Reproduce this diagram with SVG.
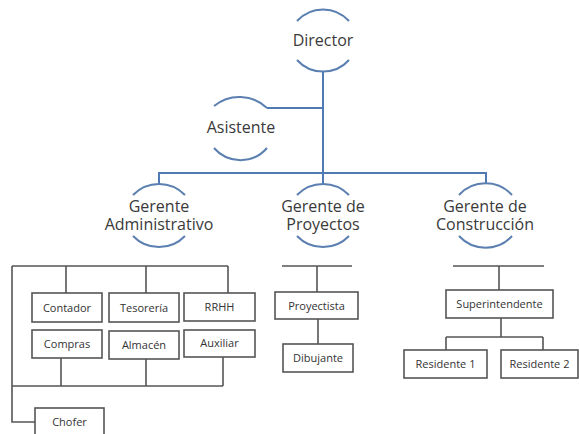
<svg xmlns="http://www.w3.org/2000/svg" width="579" height="434" viewBox="0 0 579 434">
<style>
.bg{fill:#fff}
.arc{fill:none;stroke:#5a7fb0;stroke-width:2}
.bl{fill:none;stroke:#4f7ab3;stroke-width:2}
.gl{fill:none;stroke:#555;stroke-width:1.6}
.box{fill:#fff;stroke:#555;stroke-width:1.6}
.t1{font-family:"Open Sans","Liberation Sans",sans-serif;font-size:16px;fill:#3a3a3a;text-anchor:middle}
.t2{font-family:"Open Sans","Liberation Sans",sans-serif;font-size:11px;fill:#333;text-anchor:middle}
</style>
<rect class="bg" width="579" height="434"/>
<g id="connectors">
<path class="bl" d="M323,71 V173 M267,108 H323 M159,185 V173 H486 V184 M323,173 V185"/>
<path class="gl" d="M12,266 H228 M12,266 V422 H35 M66,266 V293 M146,266 V293 M228,266 V293 M61,358 V386 M146,359 V386 M223,357 V386 M12,386 H223"/>
<path class="gl" d="M282,266 H352 M317,266 V292 M318,319 V344"/>
<path class="gl" d="M453,266 H544 M499,266 V290 M501,318 V337 M446,337 H543 M446,337 V350 M543,337 V350"/>
</g>
<g id="director">
<path class="arc" d="M297,21 A35,35 0 0 1 349,21 M297,60 A35,35 0 0 0 349,60"/>
<text class="t1" x="323" y="46">Director</text>
</g>
<g id="asistente">
<path class="arc" d="M214,106 A40,40 0 0 1 267,108 M214,148 A35,35 0 0 0 267,148"/>
<text class="t1" x="241" y="133">Asistente</text>
</g>
<g id="gerente-admin">
<path class="arc" d="M133,195 A36,36 0 0 1 185,195 M133,236 A36,36 0 0 0 185,236"/>
<text class="t1" x="159" y="212">Gerente</text>
<text class="t1" x="159" y="230">Administrativo</text>
</g>
<g id="gerente-proy">
<path class="arc" d="M297,195 A36,36 0 0 1 349,195 M297,236 A36,36 0 0 0 349,236"/>
<text class="t1" x="323" y="212">Gerente de</text>
<text class="t1" x="323" y="230">Proyectos</text>
</g>
<g id="gerente-const">
<path class="arc" d="M459,195 A36,36 0 0 1 512,195 M459,236 A36,36 0 0 0 512,236"/>
<text class="t1" x="485" y="212">Gerente de</text>
<text class="t1" x="485" y="230">Construcción</text>
</g>
<g id="contador"><rect class="box" x="32" y="293" width="70" height="29"/><text class="t2" x="67" y="312">Contador</text></g>
<g id="tesoreria"><rect class="box" x="109" y="293" width="70" height="29"/><text class="t2" x="144" y="312">Tesorería</text></g>
<g id="rrhh"><rect class="box" x="184" y="293" width="71" height="28"/><text class="t2" x="219.5" y="311">RRHH</text></g>
<g id="compras"><rect class="box" x="32" y="330" width="70" height="28"/><text class="t2" x="67" y="348">Compras</text></g>
<g id="almacen"><rect class="box" x="109" y="331" width="70" height="28"/><text class="t2" x="144" y="349">Almacén</text></g>
<g id="auxiliar"><rect class="box" x="184" y="330" width="71" height="27"/><text class="t2" x="219.5" y="347">Auxiliar</text></g>
<g id="chofer"><rect class="box" x="35" y="408" width="69" height="30"/><text class="t2" x="69.5" y="426">Chofer</text></g>
<g id="proyectista"><rect class="box" x="275" y="292" width="83" height="27"/><text class="t2" x="316.5" y="310">Proyectista</text></g>
<g id="dibujante"><rect class="box" x="283" y="344" width="70" height="28"/><text class="t2" x="318" y="362">Dibujante</text></g>
<g id="superintendente"><rect class="box" x="446" y="290" width="107" height="28"/><text class="t2" x="499.5" y="308">Superintendente</text></g>
<g id="residente1"><rect class="box" x="404" y="350" width="83" height="28"/><text class="t2" x="445.5" y="368">Residente 1</text></g>
<g id="residente2"><rect class="box" x="501" y="350" width="77" height="28"/><text class="t2" x="539.5" y="368">Residente 2</text></g>
</svg>
